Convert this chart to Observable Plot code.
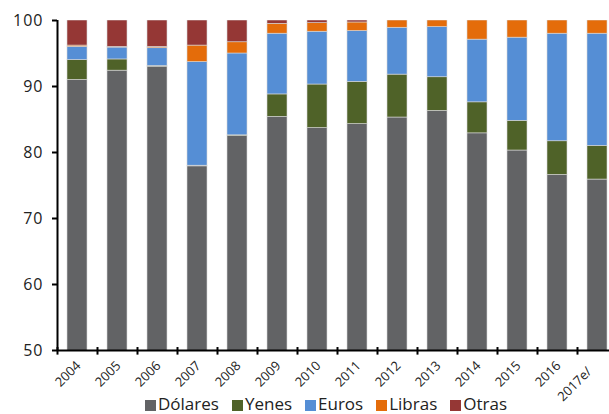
<!DOCTYPE html>
<html>
<head>
<meta charset="utf-8">
<script src="https://cdn.jsdelivr.net/npm/d3@7"></script>
<script src="https://cdn.jsdelivr.net/npm/@observablehq/plot@0.6"></script>
<style>
  html, body { margin: 0; padding: 0; background: white; overflow: hidden; }
  #wrap { position: relative; width: 609px; height: 414px; overflow: hidden; }
  #chart svg { max-width: none !important; width: 617px; height: 404px; display: block; overflow: visible; }
  #chart svg g[aria-label="y-axis tick label"] text { letter-spacing: 1px; }
  #legend { position: absolute; left: 145px; top: 394px; display: flex; font-family: "Open Sans", sans-serif; font-size: 17px; line-height: 20px; color: #222; white-space: nowrap; }
  #legend .item { display: flex; align-items: center; margin-right: 13px; }
  #legend .sw { width: 11px; height: 11px; margin-right: 2px; margin-top: 2px; }
</style>
</head>
<body>
<div id="wrap">
  <div id="chart"></div>
  <div id="legend"></div>
</div>
<script>
const years = ["2004","2005","2006","2007","2008","2009","2010","2011","2012","2013","2014","2015","2016","2017e/"];
const series = ["Dólares","Yenes","Euros","Libras","Otras"];
const colors = ["#626365","#4f6228","#558ed5","#e46c0a","#953735"];
const dolares = [91.0, 92.4, 93.0, 77.9, 82.5, 85.4, 83.7, 84.3, 85.3, 86.3, 82.9, 80.3, 76.6, 75.9];
const yenes   = [ 3.0,  1.7,  0.1,  0.1,  0.1,  3.4,  6.6,  6.4,  6.5,  5.1,  4.7,  4.5,  5.1,  5.1];
const euros   = [ 2.0,  1.8,  2.7, 15.7, 12.4,  9.2,  8.0,  7.7,  7.1,  7.6,  9.5, 12.6, 16.3, 17.0];
const libras  = [ 0.2,  0.1,  0.2,  2.5,  1.7,  1.5,  1.3,  1.3,  1.1,  1.0,  2.9,  2.6,  2.0,  2.0];
const otras   = [ 3.8,  4.0,  4.0,  3.8,  3.3,  0.5,  0.4,  0.3,  0.0,  0.0,  0.0,  0.0,  0.0,  0.0];
const yTicks = [50, 60, 70, 80, 90, 100];

const values = [dolares, yenes, euros, libras, otras];
const data = [];
years.forEach((yr, i) => {
  series.forEach((s, j) => data.push({year: yr, currency: s, value: values[j][i]}));
});

const chart = Plot.plot({
  width: 617,
  height: 404,
  marginLeft: 57,
  marginRight: 0,
  marginTop: 20,
  marginBottom: 54,
  style: {fontFamily: "Open Sans, sans-serif", fontSize: "16px", color: "#222", background: "transparent"},
  x: {domain: years, paddingInner: 0.5, paddingOuter: 0.25, label: null, axis: null},
  y: {domain: [50, 100], label: null, axis: null},
  color: {domain: series, range: colors},
  marks: [
    Plot.barY(data, {x: "year", y: "value", fill: "currency", clip: true, stroke: "#d8d8d8", strokeWidth: 0.6}),
    Plot.axisY({ticks: yTicks, tickSize: 5, tickPadding: 9, strokeWidth: 2, stroke: "black", fontSize: 16, label: null}),
    Plot.axisX({ticks: years.slice(0, -1), tickRotate: -45, tickSize: 0, tickPadding: 13, dx: 1, fontSize: 13, label: null}),
    Plot.axisX({ticks: years.slice(-1), tickRotate: -45, tickSize: 0, tickPadding: 19, dx: -8, fontSize: 13, label: null}),
    Plot.ruleY([50], {stroke: "black", strokeWidth: 2}),
    Plot.ruleX([years[0]], {x: d => d, dx: -20, y1: 50, y2: 100, stroke: "black", strokeWidth: 2}),
    Plot.ruleX(years, {x: d => d, dx: -20, y1: 50.45, y2: 49.3, stroke: "black", strokeWidth: 2})
  ]
});
document.getElementById("chart").appendChild(chart);

const legend = document.getElementById("legend");
series.forEach((s, j) => {
  const item = document.createElement("div");
  item.className = "item";
  const sw = document.createElement("div");
  sw.className = "sw";
  sw.style.background = colors[j];
  const t = document.createElement("span");
  t.textContent = s;
  item.appendChild(sw);
  item.appendChild(t);
  legend.appendChild(item);
});
</script>
</body>
</html>
